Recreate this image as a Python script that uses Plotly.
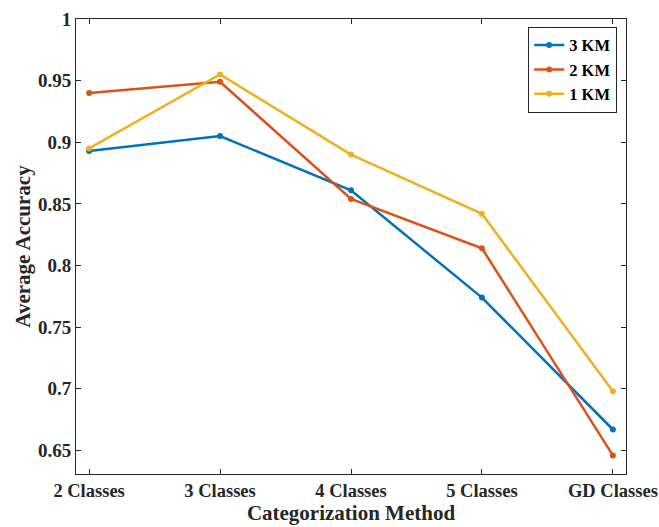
import plotly.graph_objects as go

categories = ["2 Classes", "3 Classes", "4 Classes", "5 Classes", "GD Classes"]
km3 = [0.893, 0.905, 0.861, 0.774, 0.667]
km2 = [0.940, 0.949, 0.854, 0.814, 0.646]
km1 = [0.895, 0.955, 0.890, 0.842, 0.698]
ytick_vals = [0.65, 0.7, 0.75, 0.8, 0.85, 0.9, 0.95, 1.0]
ytick_text = ["0.65", "0.7", "0.75", "0.8", "0.85", "0.9", "0.95", "1"]

series = [("3 KM", km3, "#0072BD"), ("2 KM", km2, "#D95319"), ("1 KM", km1, "#EDB120")]
xpos = list(range(1, len(categories) + 1))

fig = go.Figure()
for name, vals, col in series:
    fig.add_trace(go.Scatter(x=xpos, y=vals, name=f"<b>{name}</b>", mode="lines+markers",
                             line=dict(color=col, width=2.5),
                             marker=dict(color=col, size=6)))

font_family = "Liberation Serif"
fig.update_layout(
    width=659, height=527,
    margin=dict(l=76, r=33, t=19, b=53),
    plot_bgcolor="white", paper_bgcolor="white",
    font=dict(family=font_family, size=18, color="#262626"),
    showlegend=True,
    legend=dict(x=0.984, y=0.983, xanchor="right", yanchor="top",
                bordercolor="#262626", borderwidth=1, bgcolor="white",
                font=dict(family=font_family, size=16.5, color="#000000"),
                tracegroupgap=0, itemwidth=30),
)
fig.update_xaxes(range=[0.9, 5.1], tickvals=xpos, ticktext=[f"<b>{c}</b>" for c in categories],
                 ticks="inside", ticklen=5, tickcolor="#262626", mirror="ticks",
                 showline=True, linecolor="#262626", linewidth=1, showgrid=False, zeroline=False,
                 automargin=False, tickfont=dict(size=18.5),
                 title=dict(text="<b>Categorization Method</b>", font=dict(size=21), standoff=3))
fig.update_yaxes(range=[0.6309, 1.0], tickvals=ytick_vals, ticktext=[f"<b>{t}</b>" for t in ytick_text],
                 ticks="inside", ticklen=5, tickcolor="#262626", mirror="ticks",
                 showline=True, linecolor="#262626", linewidth=1, showgrid=False, zeroline=False,
                 automargin=False, tickfont=dict(size=19),
                 title=dict(text="<b>Average Accuracy</b>", font=dict(size=21), standoff=1))

fig.write_html("out.html", config={"displayModeBar": False},
               post_script="document.body.style.margin='0';")
